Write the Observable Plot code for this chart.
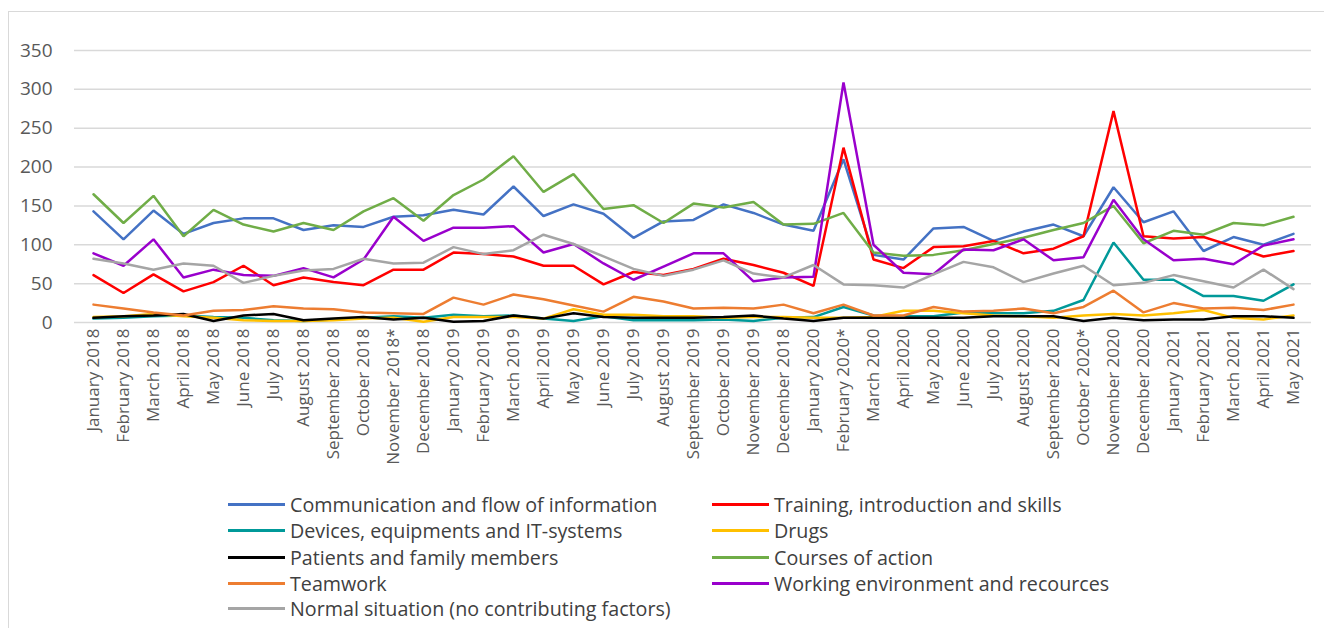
<!DOCTYPE html>
<html><head><meta charset="utf-8">
<script src="https://cdn.jsdelivr.net/npm/d3@7"></script>
<script src="https://cdn.jsdelivr.net/npm/@observablehq/plot@0.6"></script>
<style>
html,body{margin:0;padding:0;background:#fff;overflow:hidden;width:1324px;height:628px;}
#wrap{position:relative;width:1324px;height:628px;font-family:"Open Sans",sans-serif;overflow:hidden;}
#frame{position:absolute;left:8px;top:11px;width:1340px;height:640px;border:1px solid #d9d9d9;}
#chart{position:absolute;left:0;top:0;}
#legend{position:absolute;left:0;top:0;}
.item{position:absolute;display:flex;align-items:center;font-size:19.7px;color:#404040;white-space:nowrap;height:26px;transform:translateY(-13px);}
.sw{width:57px;height:3px;margin-right:5px;}
</style></head>
<body><div id="wrap"><div id="frame"></div><div id="chart"></div><div id="legend"></div></div>
<script>
const months = ["January 2018","February 2018","March 2018","April 2018","May 2018","June 2018","July 2018","August 2018","September 2018","October 2018","November 2018*","December 2018",
"January 2019","February 2019","March 2019","April 2019","May 2019","June 2019","July 2019","August 2019","September 2019","October 2019","November 2019","December 2018",
"January 2020","February 2020*","March 2020","April 2020","May 2020","June 2020","July 2020","August 2020","September 2020","October 2020*","November 2020","December 2020",
"January 2021","February 2021","March 2021","April 2021","May 2021"];

const communication = [143,107,144,114,128,134,134,119,125,123,136,138,145,139, 175,137,152,140,109,130,132,152,141,126,118,210,87, 81,121,123,105,117,126,111,174,129,143,92,110,100,114];
const training      = [61,38,62,40,52,73,48,58,52,48,68,68,90,88, 85,73,73,49,65,61,69,82,74,64,47,225,81, 70,97,98,105,89,95,111,272,111,108,110,98,85,92];
const devices       = [5,6,8,9,7,6,3,2,4,6,8,6,10,8, 9,5,2,8,3,3,3,4,2,6,7,20,9, 8,8,13,12,12,15,29,103,55,55,34,34,28,49];
const drugs         = [7,8,11,8,6,3,2,2,3,5,6,1,7,7, 7,5,17,10,10,8,8,6,7,7,6,6,7, 15,15,12,9,8,6,9,11,9,12,16,6,4,9];
const patients      = [6,8,9,11,2,9,11,3,5,7,4,6,1,2, 9,5,12,7,6,6,6,7,9,5,2,6,6, 6,6,6,8,8,8,2,6,3,4,4,8,8,6];
const courses       = [165,128,163,111,145,126,117,128,119,143,160,131,164,184, 214,168,191,146,151,128,153,148,155,126,127,141,90, 86,87,93,101,109,119,128,150,102,118,113,128,125,136];
const teamwork      = [23,18,13,9,15,16,21,18,17,13,12,11,32,23, 36,30,22,14,33,27,18,19,18,23,12,23,9, 9,20,14,15,18,12,20,41,13,25,18,19,16,23];
const working       = [89,73,107,58,68,61,60,70,58,81,136,105,122,122, 124,90,101,76,55,72,89,89,53,58,59,309,100, 64,62,94,93,107,80,84,158,107,80,82,75,99,107];
const normal        = [82,76,68,76,73,51,60,67,69,82,76,77,97,88, 93,113,101,85,69,60,68,80,63,58,74,49,48, 45,62,78,71,52,63,73,48,51,61,53,45,68,43];

const seriesNames = ["Communication and flow of information","Training, introduction and skills","Devices, equipments and IT-systems","Drugs","Patients and family members","Courses of action","Teamwork","Working environment and recources","Normal situation (no contributing factors)"];
const seriesColors = ["#4472C4","#FF0000","#009999","#FFC000","#000000","#70AD47","#ED7D31","#9900CC","#A5A5A5"];
const seriesValues = [communication,training,devices,drugs,patients,courses,teamwork,working,normal];
const yTicks = [0,50,100,150,200,250,300,350];

const rows = [];
seriesNames.forEach((name, s) => seriesValues[s].forEach((v, i) => rows.push({series: name, i, value: v})));

const chart = Plot.plot({
  width: 1324, height: 480,
  marginLeft: 74, marginRight: 13, marginTop: 50, marginBottom: 158,
  style: {fontFamily: "Open Sans", background: "transparent", color: "#595959", overflow: "visible"},
  x: {type: "point", domain: d3.range(months.length), padding: 0.5, axis: null, label: null},
  y: {domain: [0, 350], axis: null, label: null},
  color: {domain: seriesNames, range: seriesColors},
  marks: [
    Plot.ruleY(yTicks, {stroke: "#d9d9d9", strokeWidth: 1.5}),
    Plot.axisY({ticks: yTicks, tickSize: 0, tickPadding: 22, fontSize: 19, label: null}),
    Plot.axisX({tickFormat: i => months[i], tickRotate: -90, tickSize: 0, tickPadding: 6, fontSize: 17, label: null}),
    Plot.lineY(rows, {x: "i", y: "value", stroke: "series", z: "series", strokeWidth: 2.5, strokeLinejoin: "miter"})
  ]
});
document.getElementById("chart").appendChild(chart);

const legendCols = [228, 712];
const legendRows = [504, 530, 557, 583, 608];
const legend = document.getElementById("legend");
seriesNames.forEach((name, s) => {
  const item = document.createElement("div");
  item.className = "item";
  item.style.left = legendCols[s % 2] + "px";
  item.style.top = legendRows[Math.floor(s / 2)] + "px";
  const sw = document.createElement("span");
  sw.className = "sw";
  sw.style.background = seriesColors[s];
  const tx = document.createElement("span");
  tx.textContent = name;
  item.appendChild(sw); item.appendChild(tx);
  legend.appendChild(item);
});
</script>
</body></html>
